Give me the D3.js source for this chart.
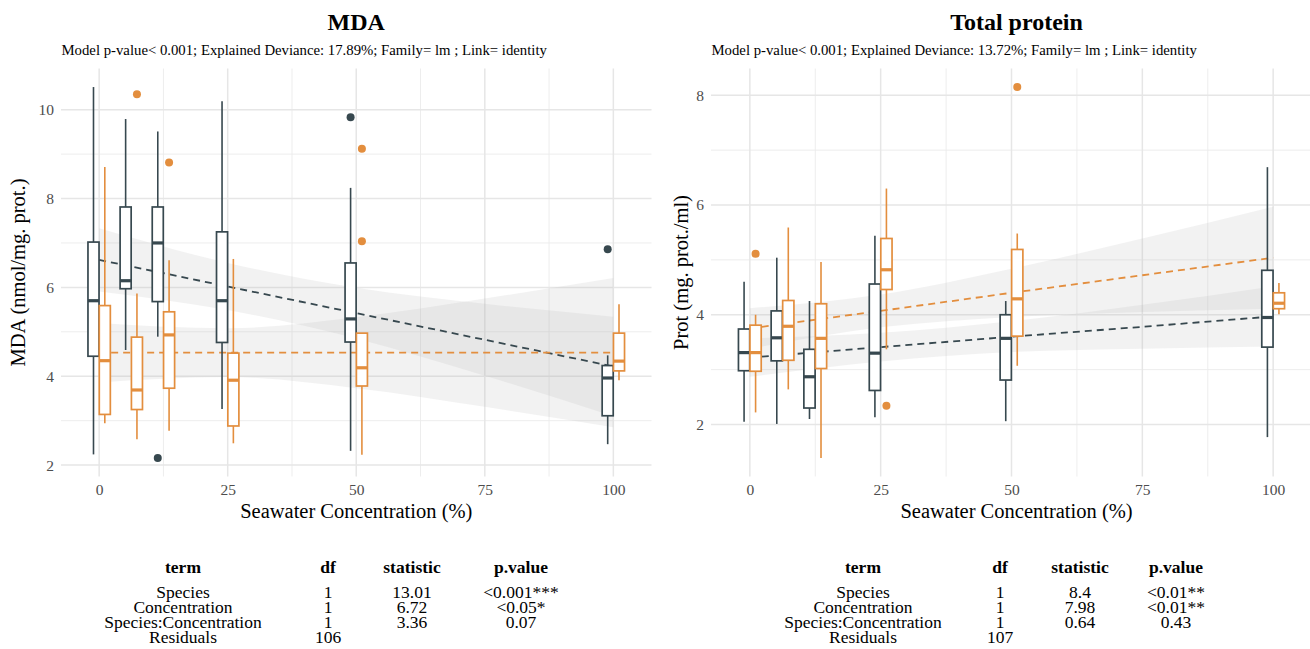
<!DOCTYPE html>
<html>
<head>
<meta charset="utf-8">
<script src="https://cdn.jsdelivr.net/npm/d3@7/dist/d3.min.js"></script>
<style>
  html, body { margin: 0; padding: 0; background: #fff; }
  svg { display: block; }
  text { font-family: "Liberation Serif", "DejaVu Serif", serif; }
</style>
</head>
<body>
<svg id="chart" width="1310" height="649"></svg>
<script>
// ---------------- DATA ----------------
const concentrations = [0, 6.25, 12.5, 25, 50, 100];
const speciesNames = ["Species 1", "Species 2"];
const xTickValues = [0, 25, 50, 75, 100];
const mdaYTicks = [2, 4, 6, 8, 10];
const protYTicks = [2, 4, 6, 8];

// box stats: [lower whisker, Q1, median, Q3, upper whisker]
const mdaSp1 = [
  [2.24, 4.45, 5.70, 7.02, 10.51],
  [4.59, 5.97, 6.15, 7.81, 9.79],
  [4.89, 5.68, 7.00, 7.81, 9.51],
  [3.26, 4.76, 5.70, 7.25, 10.19],
  [2.32, 4.77, 5.29, 6.55, 8.24],
  [2.47, 3.11, 3.96, 4.24, 4.47]
];
const mdaSp1Outliers = [[], [], [2.16], [], [9.83], [6.86]];
const mdaSp2 = [
  [2.94, 3.14, 4.35, 5.59, 8.71],
  [2.58, 3.25, 3.69, 4.88, 5.86],
  [2.77, 3.73, 4.93, 5.45, 6.61],
  [2.49, 2.88, 3.91, 4.52, 6.64],
  [2.23, 3.78, 4.19, 4.97, 4.97],
  [3.91, 4.12, 4.34, 4.97, 5.62]
];
const mdaSp2Outliers = [[], [10.35], [8.81], [], [9.12, 7.04], []];

const protSp1 = [
  [2.05, 2.98, 3.31, 3.74, 4.60],
  [2.01, 3.16, 3.58, 4.07, 5.04],
  [2.10, 2.30, 2.87, 3.37, 4.25],
  [2.13, 2.62, 3.30, 4.56, 5.44],
  [2.06, 2.81, 3.57, 4.00, 4.25],
  [1.77, 3.41, 3.95, 4.81, 6.69]
];
const protSp1Outliers = [[], [], [], [], [], []];
const protSp2 = [
  [2.22, 2.97, 3.31, 3.81, 4.00],
  [2.64, 3.17, 3.79, 4.26, 5.59],
  [1.39, 3.02, 3.57, 4.20, 4.96],
  [3.37, 4.46, 4.82, 5.39, 6.30],
  [3.07, 3.61, 4.29, 5.19, 5.48],
  [4.01, 4.11, 4.21, 4.40, 4.58]
];
const protSp2Outliers = [[5.11], [], [], [2.34], [8.15], []];

// linear fits with confidence bands, read at these concentrations
const fitX = [0, 25, 50, 75, 100];
const mdaSp1Fit = [6.62, 6.02, 5.42, 4.82, 4.22];
const mdaSp1Upper = [7.33, 6.55, 5.99, 5.63, 5.34];
const mdaSp1Lower = [5.91, 5.49, 4.85, 4.01, 3.10];
const mdaSp2Fit = [4.53, 4.53, 4.53, 4.53, 4.53];
const mdaSp2Upper = [5.20, 5.08, 5.33, 5.75, 6.21];
const mdaSp2Lower = [3.86, 3.98, 3.73, 3.31, 2.85];
const protSp1Fit = [3.22, 3.41, 3.60, 3.78, 3.97];
const protSp1Upper = [3.57, 3.67, 3.88, 4.18, 4.52];
const protSp1Lower = [2.87, 3.15, 3.32, 3.38, 3.42];
const protSp2Fit = [3.75, 4.07, 4.40, 4.72, 5.04];
const protSp2Upper = [4.12, 4.37, 4.84, 5.39, 5.97];
const protSp2Lower = [3.38, 3.77, 3.96, 4.05, 4.11];

// ANOVA tables
const tableHeader = ["term", "df", "statistic", "p.value"];
const tableTerms = ["Species", "Concentration", "Species:Concentration", "Residuals"];
const mdaDf = ["1", "1", "1", "106"];
const mdaStatistic = ["13.01", "6.72", "3.36", ""];
const mdaPValue = ["<0.001***", "<0.05*", "0.07", ""];
const protDf = ["1", "1", "1", "107"];
const protStatistic = ["8.4", "7.98", "0.64", ""];
const protPValue = ["<0.01**", "<0.01**", "0.43", ""];

// texts
const mdaTitle = "MDA";
const mdaSubtitle = "Model p-value< 0.001; Explained Deviance: 17.89%; Family= lm ; Link= identity";
const mdaYLabel = "MDA (nmol/mg. prot.)";
const protTitle = "Total protein";
const protSubtitle = "Model p-value< 0.001; Explained Deviance: 13.72%; Family= lm ; Link= identity";
const protYLabel = "Prot (mg. prot./ml)";
const xLabel = "Seawater Concentration (%)";

// ---------------- STYLE ----------------
const colors = ["#37484f", "#e38e3e"];
const svg = d3.select("#chart");
const panelTop = 68.5, panelBottom = 476.5;
const boxW = 2.15;      // in concentration units
const dodge = 1.1;

function buildPanel(p) {
  const g = svg.append("g");
  const xmin = d3.min(concentrations) - 2 * dodge, xmax = d3.max(concentrations) + 2 * dodge;
  const xpad = (xmax - xmin) * 0.05;
  const x = d3.scaleLinear().domain([xmin - xpad, xmax + xpad]).range([p.left, p.right]);
  const allY = [];
  p.boxes.forEach((b, i) => { b.forEach(s => allY.push(s[0], s[4])); p.outliers[i].forEach(o => o.forEach(v => allY.push(v))); });
  const [ymin, ymax] = d3.extent(allY);
  const ypad = (ymax - ymin) * 0.05;
  const y = d3.scaleLinear().domain([ymin - ypad, ymax + ypad]).range([panelBottom, panelTop]);

  // grid
  const xd = x.domain(), yd = y.domain();
  const xMinor = d3.range(xTickValues[0] - 12.5, xTickValues[xTickValues.length - 1] + 13, 25).filter(v => v >= xd[0] && v <= xd[1]);
  const yStep = p.yTicks[1] - p.yTicks[0];
  const yMinor = d3.range(p.yTicks[0] - yStep / 2, p.yTicks[p.yTicks.length - 1] + yStep, yStep).filter(v => v >= yd[0] && v <= yd[1]);
  const grid = g.append("g");
  grid.selectAll(".ymin").data(yMinor).join("line")
    .attr("x1", p.left).attr("x2", p.right).attr("y1", d => y(d)).attr("y2", d => y(d))
    .attr("stroke", "#ebebeb").attr("stroke-width", 0.9);
  grid.selectAll(".xmin").data(xMinor).join("line")
    .attr("y1", panelTop).attr("y2", panelBottom).attr("x1", d => x(d)).attr("x2", d => x(d))
    .attr("stroke", "#ebebeb").attr("stroke-width", 0.9);
  grid.selectAll(".ymaj").data(p.yTicks).join("line")
    .attr("x1", p.left).attr("x2", p.right).attr("y1", d => y(d)).attr("y2", d => y(d))
    .attr("stroke", "#e6e6e6").attr("stroke-width", 1.5);
  grid.selectAll(".xmaj").data(xTickValues).join("line")
    .attr("y1", panelTop).attr("y2", panelBottom).attr("x1", d => x(d)).attr("x2", d => x(d))
    .attr("stroke", "#e6e6e6").attr("stroke-width", 1.5);

  // ribbons
  p.fits.forEach(f => {
    const pts = fitX.map((c, i) => ({ c, lo: f.lower[i], hi: f.upper[i] }));
    g.append("path").datum(pts)
      .attr("d", d3.area().curve(d3.curveMonotoneX).x(d => x(d.c)).y0(d => y(d.lo)).y1(d => y(d.hi)))
      .attr("fill", "#b4b4b4").attr("fill-opacity", 0.17);
  });
  // fit lines
  p.fits.forEach((f, k) => {
    const pts = fitX.map((c, i) => ({ c, v: f.fit[i] }));
    g.append("path").datum(pts)
      .attr("d", d3.line().x(d => x(d.c)).y(d => y(d.v)))
      .attr("fill", "none").attr("stroke", colors[k]).attr("stroke-width", 1.8)
      .attr("stroke-dasharray", "7,5");
  });

  // boxes
  p.boxes.forEach((series, k) => {
    const off = k === 0 ? -dodge : dodge;
    const bg = g.append("g");
    series.forEach((s, i) => {
      const cx = concentrations[i] + off;
      const xl = x(cx - boxW / 2), xr = x(cx + boxW / 2), xc = x(cx);
      bg.append("line").attr("x1", xc).attr("x2", xc).attr("y1", y(s[0])).attr("y2", y(s[1]))
        .attr("stroke", colors[k]).attr("stroke-width", 1.6);
      bg.append("line").attr("x1", xc).attr("x2", xc).attr("y1", y(s[3])).attr("y2", y(s[4]))
        .attr("stroke", colors[k]).attr("stroke-width", 1.6);
      bg.append("rect").attr("x", xl).attr("width", xr - xl).attr("y", y(s[3])).attr("height", y(s[1]) - y(s[3]))
        .attr("fill", "#fff").attr("stroke", colors[k]).attr("stroke-width", 1.7);
      bg.append("line").attr("x1", xl).attr("x2", xr).attr("y1", y(s[2])).attr("y2", y(s[2]))
        .attr("stroke", colors[k]).attr("stroke-width", 3.2);
      p.outliers[k][i].forEach(v => {
        bg.append("circle").attr("cx", xc).attr("cy", y(v)).attr("r", 4).attr("fill", colors[k]);
      });
    });
  });

  // axes labels
  const xa = g.append("g").attr("transform", `translate(0,${panelBottom + 3})`)
    .call(d3.axisBottom(x).tickValues(xTickValues).tickSize(0).tickPadding(4).tickFormat(d3.format("d")));
  xa.select(".domain").remove();
  xa.selectAll("text").attr("fill", "#4d4d4d").style("font-size", "15.5px").style("font-family", "Liberation Serif");
  const ya = g.append("g").attr("transform", `translate(${p.left - 3},0)`)
    .call(d3.axisLeft(y).tickValues(p.yTicks).tickSize(0).tickPadding(4));
  ya.select(".domain").remove();
  ya.selectAll("text").attr("fill", "#4d4d4d").style("font-size", "15.5px").style("font-family", "Liberation Serif");

  const cx = (p.left + p.right) / 2;
  g.append("text").attr("x", cx + p.titleShift).attr("y", 30).attr("text-anchor", "middle")
    .style("font-size", "24px").style("font-weight", "bold").text(p.title);
  g.append("text").attr("x", p.left + 0.5).attr("y", 55)
    .style("font-size", "14.75px").text(p.subtitle);
  g.append("text").attr("x", cx + p.titleShift).attr("y", 518).attr("text-anchor", "middle")
    .style("font-size", "20.5px").text(xLabel);
  g.append("text").attr("transform", `translate(${p.yLabelX},${(panelTop + panelBottom) / 2}) rotate(-90)`)
    .attr("text-anchor", "middle").style("font-size", "20.5px").text(p.yLabel);

  // table
  const tg = g.append("g");
  tableHeader.forEach((h, j) => {
    tg.append("text").attr("x", p.tableCols[j]).attr("y", 573).attr("text-anchor", "middle")
      .style("font-size", "17.5px").style("font-weight", "bold").text(h);
  });
  const cols = [tableTerms, p.df, p.stat, p.pval];
  cols.forEach((col, j) => {
    col.forEach((v, r) => {
      tg.append("text").attr("x", p.tableCols[j]).attr("y", 597.5 + r * 15).attr("text-anchor", "middle")
        .style("font-size", "17.5px").text(v);
    });
  });
}

buildPanel({
  left: 61, right: 651.5, yTicks: mdaYTicks,
  boxes: [mdaSp1, mdaSp2], outliers: [mdaSp1Outliers, mdaSp2Outliers],
  fits: [
    { fit: mdaSp1Fit, upper: mdaSp1Upper, lower: mdaSp1Lower },
    { fit: mdaSp2Fit, upper: mdaSp2Upper, lower: mdaSp2Lower }
  ],
  title: mdaTitle, subtitle: mdaSubtitle, yLabel: mdaYLabel, yLabelX: 25, titleShift: 0,
  tableCols: [183, 328, 412, 521], df: mdaDf, stat: mdaStatistic, pval: mdaPValue
});
buildPanel({
  left: 711, right: 1312, yTicks: protYTicks,
  boxes: [protSp1, protSp2], outliers: [protSp1Outliers, protSp2Outliers],
  fits: [
    { fit: protSp1Fit, upper: protSp1Upper, lower: protSp1Lower },
    { fit: protSp2Fit, upper: protSp2Upper, lower: protSp2Lower }
  ],
  title: protTitle, subtitle: protSubtitle, yLabel: protYLabel, yLabelX: 688, titleShift: 5,
  tableCols: [863, 1000, 1080, 1176], df: protDf, stat: protStatistic, pval: protPValue
});
</script>
</body>
</html>
